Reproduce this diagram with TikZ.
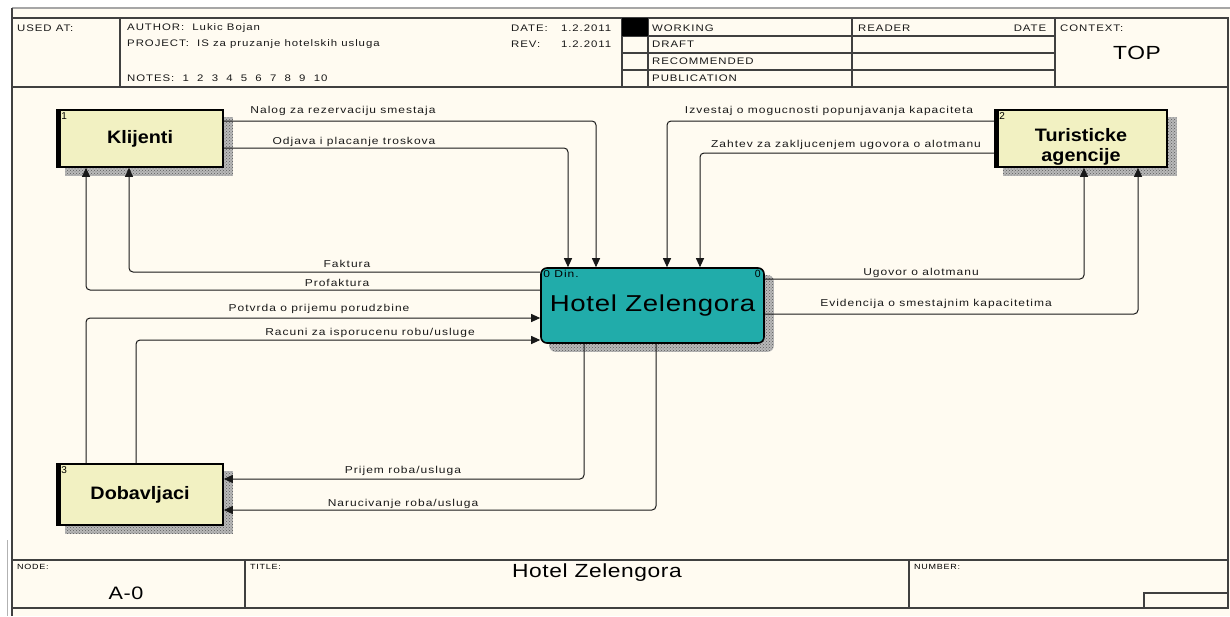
\documentclass[tikz,border=0pt]{standalone}
\usepackage{fontspec}
\setmainfont{Liberation Sans}
\newfontfamily\smf{Liberation Sans}[FakeStretch=1.2,LetterSpace=10]
\newfontfamily\bxf{Liberation Sans}[FakeStretch=1.1]
\newfontfamily\bgf{Liberation Sans}[FakeStretch=1.2,LetterSpace=3]
\usetikzlibrary{arrows.meta,patterns,calc}
\definecolor{cream}{RGB}{255,251,241}
\definecolor{entfill}{RGB}{242,241,194}
\definecolor{hotelfill}{RGB}{33,172,170}
\pgfdeclarelayer{bg}
\pgfdeclarelayer{shade}
\pgfsetlayers{bg,shade,main}
\begin{document}
\begin{tikzpicture}[x=1pt,y=-1pt,
  ent/.style={draw=black,line width=1.6pt,fill=entfill,inner sep=0pt,align=center,
    font=\bxf\bfseries\fontsize{18}{20}\selectfont},
  hotel/.style={draw=black,line width=1.6pt,fill=hotelfill,rounded corners=6pt,inner sep=0pt,
    font=\bgf\fontsize{23}{26}\selectfont},
  flow/.style={draw=black!90,line width=1pt,rounded corners=4pt,-{Triangle[length=9pt,width=8pt]}},
  lbl/.style={font=\smf\fontsize{10}{12}\selectfont,inner sep=0pt,text=black!90},
  hdr/.style={font=\smf\fontsize{9.5}{11}\selectfont,inner sep=0pt,anchor=west,text=black!90},
  tiny/.style={font=\smf\fontsize{7.5}{9}\selectfont,inner sep=0pt,anchor=west},
  num/.style={font=\fontsize{10}{11}\selectfont,inner sep=0pt,anchor=north west},
  frame/.style={draw=black!75,line width=1.1pt},
  shadefill/.style={fill=gray!55,postaction={pattern=crosshatch dots,pattern color=black!65}}
]
\useasboundingbox (0,0) rectangle (1230,616);
\begin{pgfonlayer}{bg}
  \fill[white] (0,0) rectangle (1230,616);
  \fill[cream] (12,8) rectangle (1230,616);
\end{pgfonlayer}

% outer frame
\draw[draw=gray!70,line width=1.2pt] (12,8) -- (1230,8);
\draw[frame] (12,8) -- (12,616);
\draw[draw=gray!60,line width=0.8pt] (7,540) -- (7,616);
\draw[frame] (1228,87) -- (1228,560);

% header
\draw[frame] (12,18) rectangle (1228,87);
\draw[frame] (120,18) -- (120,87);
\draw[frame] (622,18) -- (622,87);
\draw[frame] (648,18) -- (648,87);
\draw[frame] (852,18) -- (852,87);
\draw[frame] (1055,18) -- (1055,87);
\draw[frame] (622,36) -- (1055,36);
\draw[frame] (622,53) -- (1055,53);
\draw[frame] (622,70) -- (1055,70);
\fill[black] (622,18) rectangle (648,36);

\node[hdr] (usedat) at (17,28) {USED AT:};
\node[hdr] (author) at (127,28) {AUTHOR:\ \ Lukic Bojan};
\node[hdr] (project) at (127,44) {PROJECT:\ \ IS za pruzanje hotelskih usluga};
\node[hdr] (notes) at (127,78) {NOTES:\ \ 1\ \ 2\ \ 3\ \ 4\ \ 5\ \ 6\ \ 7\ \ 8\ \ 9\ \ 10};
\node[hdr] (date) at (511,28) {\makebox[100pt]{DATE:\hfill 1.2.2011}};
\node[hdr] (rev) at (511,44) {\makebox[100pt]{REV:\hfill 1.2.2011}};
\node[hdr] (working) at (652,28) {WORKING};
\node[hdr] (draft) at (652,44) {DRAFT};
\node[hdr] (recom) at (652,61) {RECOMMENDED};
\node[hdr] (publ) at (652,78) {PUBLICATION};
\node[hdr] (reader) at (858,28) {\makebox[188pt]{READER\hfill DATE}};
\node[hdr] (context) at (1060,28) {CONTEXT:};
\node[inner sep=0pt,font=\bgf\fontsize{19}{22}\selectfont] (top) at (1137,53) {TOP};

% footer
\draw[frame] (12,560) rectangle (1228,608);
\draw[frame] (245,560) -- (245,608);
\draw[frame] (909,560) -- (909,608);
\draw[frame] (1144,608) |- (1228,593);
\node[tiny] (nodel) at (17,567) {NODE:};
\node[inner sep=0pt,font=\bgf\fontsize{18}{20}\selectfont] (a0) at (126,593) {A-0};
\node[tiny] (titlel) at (250,567) {TITLE:};
\node[inner sep=0pt,font=\bgf\fontsize{19}{22}\selectfont] (title) at (597,573) {Hotel Zelengora};
\node[tiny] (numl) at (914,567) {NUMBER:};

% entities
\node[ent,minimum width=166pt,minimum height=57pt] (kl) at (140,138.5) {Klijenti};
\node[ent,minimum width=172pt,minimum height=57pt] (ta) at (1081,138.5) {\rule{0pt}{29pt}Turisticke\\agencije};
\node[ent,minimum width=166pt,minimum height=61pt] (db) at (140,494.5) {Dobavljaci};
\node[hotel,minimum width=223pt,minimum height=75pt] (ho) at (652.5,305.5) {Hotel Zelengora};

\foreach \n in {kl,ta,db}{
  \fill[black] (\n.north west) rectangle ($(\n.south west)+(4.5,0)$);
}
\begin{pgfonlayer}{shade}
  \foreach \n in {kl,ta,db}{
    \path[shadefill] ($(\n.north west)+(9,8)$) rectangle ($(\n.south east)+(9,8)$);
  }
  \path[shadefill,rounded corners=6pt] ($(ho.north west)+(9,8)$) rectangle ($(ho.south east)+(9,8)$);
\end{pgfonlayer}

\node[num] (n1) at ($(kl.north west)+(5,3)$) {1};
\node[num] (n2) at ($(ta.north west)+(5,3)$) {2};
\node[num] (n3) at ($(db.north west)+(5,3)$) {3};
\node[num,font=\smf\fontsize{10}{11}\selectfont] (hn) at ($(ho.north west)+(3,3)$) {0 Din.};
\node[num,anchor=north east,font=\fontsize{10.5}{11}\selectfont] (hn2) at ($(ho.north east)+(-4,3)$) {0};

% flows
\draw[flow] (kl.east |- 0,121) -| (ho.north -| 596,0);
\draw[flow] (kl.east |- 0,148) -| (ho.north -| 568,0);
\draw[flow] (ta.west |- 0,121) -| (ho.north -| 667,0);
\draw[flow] (ta.west |- 0,153) -| (ho.north -| 700,0);
\draw[flow] (ho.west |- 0,272) -| (kl.south -| 129,0);
\draw[flow] (ho.west |- 0,290) -| (kl.south -| 86,0);
\draw[flow] (db.north -| 86,0) |- (ho.west |- 0,318);
\draw[flow] (db.north -| 136,0) |- (ho.west |- 0,340);
\draw[flow] (ho.south -| 584,0) |- (db.east |- 0,479);
\draw[flow] (ho.south -| 656,0) |- (db.east |- 0,510);
\draw[flow] (ho.east |- 0,279) -| (ta.south -| 1084,0);
\draw[flow] (ho.east |- 0,314) -| (ta.south -| 1138,0);

% flow labels
\node[lbl] (l1) at (343,111) {Nalog za rezervaciju smestaja};
\node[lbl] (l2) at (354,142) {Odjava i placanje troskova};
\node[lbl] (l3) at (829,111) {Izvestaj o mogucnosti popunjavanja kapaciteta};
\node[lbl] (l4) at (846,145) {Zahtev za zakljucenjem ugovora o alotmanu};
\node[lbl] (l5) at (347,264) {Faktura};
\node[lbl] (l6) at (337,283) {Profaktura};
\node[lbl] (l7) at (319,309) {Potvrda o prijemu porudzbine};
\node[lbl] (l8) at (370,333) {Racuni za isporucenu robu/usluge};
\node[lbl] (l9) at (403,471) {Prijem roba/usluga};
\node[lbl] (l10) at (403,504) {Narucivanje roba/usluga};
\node[lbl] (l11) at (921,273) {Ugovor o alotmanu};
\node[lbl] (l12) at (936,304) {Evidencija o smestajnim kapacitetima};
\end{tikzpicture}
\end{document}
